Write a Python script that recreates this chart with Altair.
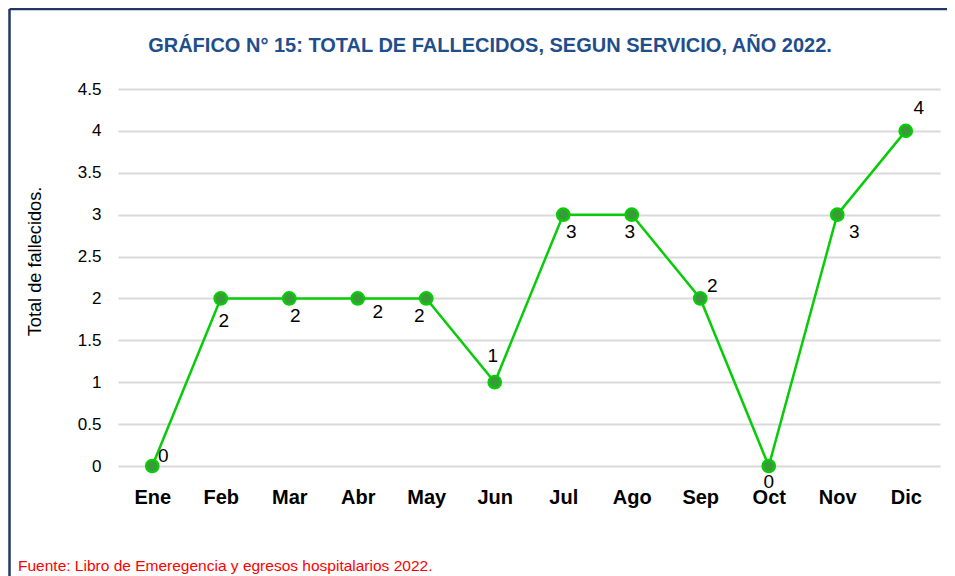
import altair as alt
import pandas as pd

# ---- data ----
meses = ["Ene", "Feb", "Mar", "Abr", "May", "Jun", "Jul", "Ago", "Sep", "Oct", "Nov", "Dic"]
fallecidos = [0, 2, 2, 2, 2, 1, 3, 3, 2, 0, 3, 4]
y_ticks = [0, 0.5, 1, 1.5, 2, 2.5, 3, 3.5, 4, 4.5]

titulo = "GRÁFICO N° 15: TOTAL DE FALLECIDOS, SEGUN SERVICIO, AÑO 2022."
titulo_y = "Total de fallecidos."
fuente = "Fuente: Libro de Emeregencia y egresos hospitalarios 2022."

# ---- style ----
FONT = "Liberation Sans Narrow, Arial Narrow, Liberation Sans, Arial, sans-serif"
W, H = 822, 377
PAD = {"left": 110, "top": 81, "right": 7, "bottom": 110}
LINE_GREEN = "#0ACB0A"
FILL_GREEN = "#3A9A3A"
NAVY = "#1F3864"

# label placement (dx, dy) per month, as in the original
label_offsets = {
    "Ene": (11, -10), "Feb": (3, 23), "Mar": (6, 18), "Abr": (20, 14),
    "May": (-7, 18), "Jun": (-2, -26), "Jul": (8, 17), "Ago": (-2, 17),
    "Sep": (12, -12), "Oct": (0, 16), "Nov": (17, 17), "Dic": (13, -23),
}

df = pd.DataFrame({"mes": meses, "valor": fallecidos})

x_enc = alt.X(
    "mes:N", sort=meses, title=None,
    scale=alt.Scale(padding=0.5),
    axis=alt.Axis(labelAngle=0, labelFontWeight="bold", labelFontSize=20,
                  labelFont=FONT, labelColor="#000000", labelPadding=21,
                  ticks=False, domain=False, grid=False),
)
y_enc = alt.Y(
    "valor:Q", title=titulo_y,
    scale=alt.Scale(domain=[0, 4.5], nice=False, zero=True),
    axis=alt.Axis(values=y_ticks, format="~g", labelFontSize=17, labelFont=FONT,
                  labelColor="#000000", labelPadding=17, ticks=False, domain=False,
                  gridColor="#D9D9D9", gridWidth=2,
                  titleFont=FONT, titleFontSize=18.2, titleFontWeight="normal",
                  titleColor="#000000", titleAngle=-90, titleX=-83, titleY=172,
                  titleAlign="center", titleBaseline="middle"),
)

base = alt.Chart(df).encode(x=x_enc, y=y_enc)

line = base.mark_line(color=LINE_GREEN, strokeWidth=2.5)
points = base.mark_point(filled=True, size=150, fill=FILL_GREEN, opacity=1,
                         stroke=LINE_GREEN, strokeWidth=2.5, shape="circle")

labels = []
for m, (dx, dy) in label_offsets.items():
    labels.append(
        base.transform_filter(alt.datum.mes == m)
        .mark_text(dx=dx, dy=dy, fontSize=19, font=FONT, color="#000000")
        .encode(text=alt.Text("valor:Q"))
    )

one = alt.Chart(pd.DataFrame({"k": [0]}))
frame_left = one.mark_rule(color=NAVY, strokeWidth=2.5).encode(
    x=alt.value(-108.5), y=alt.value(-80), y2=alt.value(H + PAD["bottom"]))
frame_top = one.mark_rule(color=NAVY, strokeWidth=2.5).encode(
    y=alt.value(-80), x=alt.value(-108.5), x2=alt.value(W + PAD["right"] + 10))
title_mark = one.mark_text(align="center", baseline="alphabetic", fontSize=20,
                           fontWeight="bold", font=FONT, color="#1F4E8C").encode(
    x=alt.value(372), y=alt.value(-37), text=alt.value(titulo))
foot = one.mark_text(align="left", baseline="alphabetic", fontSize=15.5,
                     font=FONT, color="#FF0000").encode(
    x=alt.value(-100), y=alt.value(482), text=alt.value(fuente))

chart = alt.layer(line, points, *labels, frame_left, frame_top, title_mark, foot).properties(
    width=W, height=H,
    autosize=alt.AutoSizeParams(type="none"),
    padding=PAD,
    background="white",
).configure_view(strokeWidth=0, stroke="transparent")

chart.save("out.html", embed_options={"renderer": "svg", "actions": False})
